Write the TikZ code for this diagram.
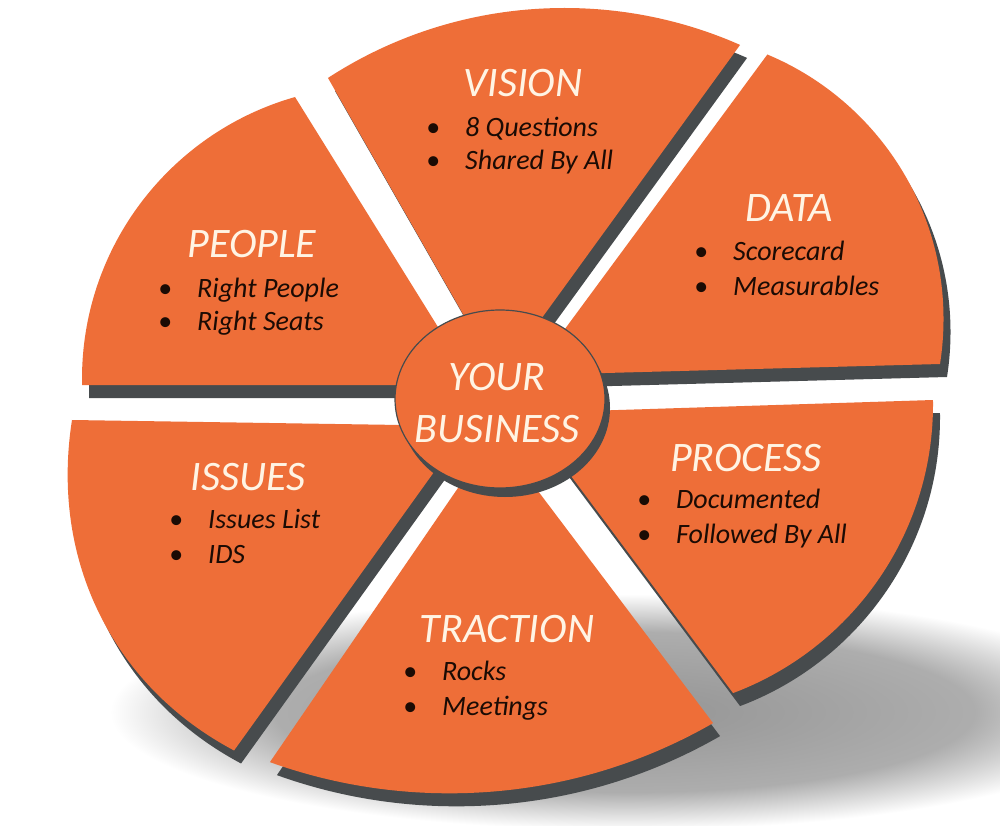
\documentclass[tikz,border=0pt]{standalone}
\usepackage{fontspec}
\setmainfont{Carlito}
\definecolor{wheelorange}{HTML}{EE6E38}
\definecolor{wheelshadow}{HTML}{474B4D}
\definecolor{titlecream}{HTML}{FFF4E4}
\definecolor{itemdark}{HTML}{1B0B04}
\pgfdeclareradialshading{floorshadow}{\pgfpoint{0bp}{0bp}}{color(0bp)=(black!42); color(17bp)=(black!32); color(25bp)=(white); color(50bp)=(white)}
% #1 wedge (clip), #2 outer disc, #3 options for the disc
\newcommand{\wheelseg}[3]{%
  \begin{scope}[shift={(7,13)}]\clip #1; \fill[segshadow,#3] #2; \end{scope}
  \begin{scope}\clip #1; \fill[seg,#3] #2; \end{scope}}
\tikzset{
  seg/.style={fill=wheelorange},
  segshadow/.style={fill=wheelshadow},
  title/.style={font=\fontsize{42}{48}\selectfont\itshape, text=titlecream, anchor=base, inner sep=0pt},
  item/.style={font=\fontsize{28}{32}\selectfont\itshape, text=itemdark, anchor=base west, inner sep=0pt},
}
\newcommand{\bul}{\llap{{\upshape\textbullet}\hspace{25pt}}}
\begin{document}
\begin{tikzpicture}[x=1pt,y=-1pt]
\useasboundingbox (0,0) rectangle (1000,826);
\clip (0,0) rectangle (1000,826);
\fill[white] (0,0) rectangle (1000,826);
% floor shadow
\shade[shading=floorshadow] (625,712) ellipse [x radius=515, y radius=118];
% VISION
\wheelseg{(499,377) -- (157,-221) -- (586,-543) -- (981,-287) -- cycle}{(564.5,442.6) circle [radius=434.6]}{}
% DATA
\wheelseg{(531,375) -- (1003,-265) -- (1511,-30) -- (1349,353) -- cycle}{(657,319) circle [radius=286.5]}{}
% PROCESS
\wheelseg{(524,413) -- (1342,387) -- (1356,898) -- (942,973) -- cycle}{(624.5,404.2) circle [radius=308.5]}{}
% TRACTION
\wheelseg{(495,434) -- (931,1012) -- (425,1331) -- (45,1090) -- cycle}{(449.4,263.7) circle [radius=529.6]}{}
% ISSUES
\wheelseg{(467,426) -- (9,1064) -- (-413,993) -- (-323,414) -- cycle}{(507,401) ellipse [x radius=460, y radius=370]}{rotate around={30:(507,401)}}
% PEOPLE
\wheelseg{(474,385) -- (-310,385) -- (-353,-77) -- (116,-191) -- cycle}{(375,379) circle [radius=293]}{}
% hub
\fill[segshadow] (505,408) ellipse [x radius=105, y radius=89];
\fill[seg, draw=wheelshadow, line width=1.2pt] (500,399) ellipse [x radius=105, y radius=89];
\node[title] (your) at (497,390) {YOUR};
\node[title] (business) at (497,442) {BUSINESS};
% VISION text
\node[title] (vision) at (523,97) {VISION};
\node[item] (v1) at (465,137) {\bul 8 Questions};
\node[item] (v2) at (465,170) {\bul Shared By All};
% DATA text
\node[title] (data) at (789,222) {DATA};
\node[item] (d1) at (733,260) {\bul Scorecard};
\node[item] (d2) at (733,295) {\bul Measurables};
% PEOPLE text
\node[title] (people) at (252,258) {PEOPLE};
\node[item] (p1) at (197,297) {\bul Right People};
\node[item] (p2) at (197,330) {\bul Right Seats};
% ISSUES text
\node[title] (issues) at (248,490) {ISSUES};
\node[item] (i1) at (208,528) {\bul Issues List};
\node[item] (i2) at (208,563) {\bul IDS};
% PROCESS text
\node[title] (process) at (746,471) {PROCESS};
\node[item] (r1) at (676,508) {\bul Documented};
\node[item] (r2) at (676,543) {\bul Followed By All};
% TRACTION text
\node[title] (traction) at (507,642) {TRACTION};
\node[item] (t1) at (442,680) {\bul Rocks};
\node[item] (t2) at (442,715) {\bul Meetings};
\end{tikzpicture}
\end{document}
